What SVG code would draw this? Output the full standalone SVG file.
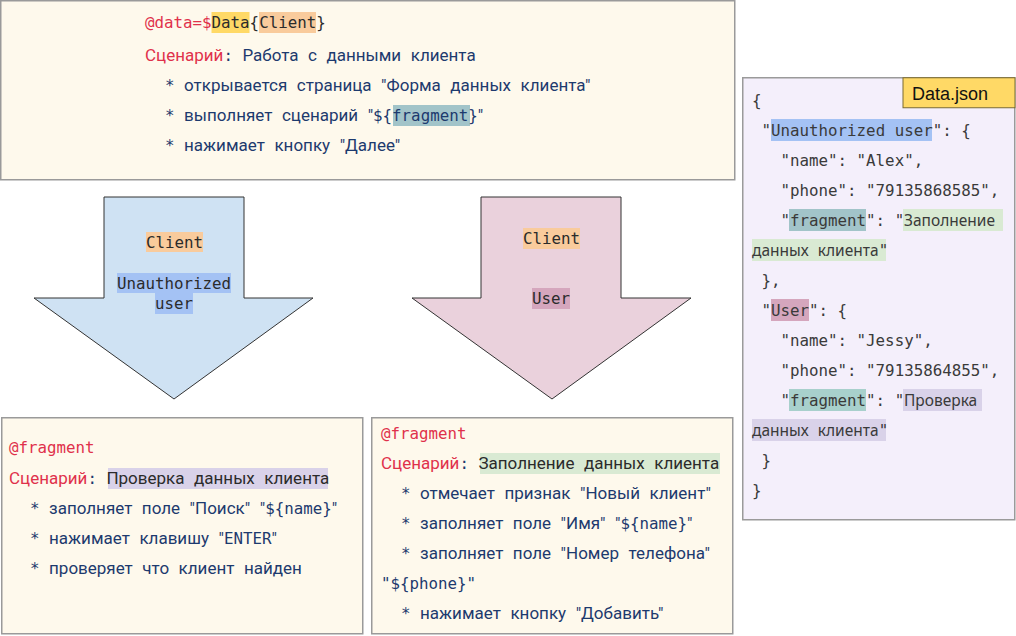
<svg xmlns="http://www.w3.org/2000/svg" width="1016" height="636" viewBox="0 0 1016 636">
<style>
.m{font-family:"DejaVu Sans Mono","Liberation Mono",monospace;font-size:15.8px;word-spacing:0}
.r{font-family:Roboto,"Noto Sans",sans-serif;font-size:17px;word-spacing:5.3px}
.j{font-family:"Noto Sans",Roboto,sans-serif;font-size:15.5px;word-spacing:5px}
.pre{white-space:pre}
.nav{fill:#1d3a6e}
.red{fill:#e0314b}
.dk{fill:#2b2b2b}
.gr{fill:#3a3a3a}
.box{fill:#fef9ec;stroke:#9a9a9a;stroke-width:1.5}
.arrow{stroke:#333;stroke-width:1}
</style>
<rect width="1016" height="636" fill="#ffffff"/>

<g id="scenario-main">
<rect class="box" x="0.75" y="0.75" width="734" height="179"/>
<rect x="211.5" y="12" width="38" height="21" fill="#ffd966"/>
<rect x="259" y="12" width="57" height="21" fill="#f9cb9c"/>
<rect x="393" y="105" width="77" height="21" fill="#a2c4c9"/>
<text class="m red" x="145" y="28">@data=$<tspan class="dk">Data{Client}</tspan></text>
<text class="r red pre" x="145" y="61">Сценарий<tspan class="m nav">: </tspan><tspan class="nav">Работа с данными клиента</tspan></text>
<text class="r nav pre" x="165" y="91"><tspan class="m">* </tspan>открывается страница "Форма данных клиента"</text>
<text class="r nav pre" x="165" y="121"><tspan class="m">* </tspan>выполняет сценарий "<tspan class="m">${fragment}</tspan>"</text>
<text class="r nav pre" x="165" y="151"><tspan class="m">* </tspan>нажимает кнопку "Далее"</text>
</g>

<g id="data-json">
<rect x="742.75" y="77.75" width="272" height="442" fill="#f4effb" stroke="#9a9a9a" stroke-width="1.5"/>
<rect x="903" y="77.75" width="112" height="30" fill="#ffd966" stroke="#7a6a30" stroke-width="1"/>
<text x="912" y="100" font-family="Liberation Sans,Arial,sans-serif" font-size="18" fill="#111">Data.json</text>
<rect x="771" y="119" width="161" height="22" fill="#a4c2f4"/>
<rect x="789" y="209" width="77" height="22" fill="#a2c4c9"/>
<rect x="903" y="209" width="100" height="22" fill="#d9ead3"/>
<rect x="752" y="239" width="134" height="22" fill="#d9ead3"/>
<rect x="771" y="299" width="38" height="22" fill="#d5a6bd"/>
<rect x="789" y="389" width="77" height="22" fill="#a8d0cc"/>
<rect x="903" y="389" width="79" height="22" fill="#d9d2e9"/>
<rect x="752" y="419" width="134" height="22" fill="#d9d2e9"/>
<g class="m gr">
<text x="752" y="106">{</text>
<text x="761.5" y="136">"Unauthorized user": {</text>
<text x="780.5" y="166">"name": "Alex",</text>
<text x="780.5" y="196">"phone": "79135868585",</text>
<text x="780.5" y="226">"fragment": "<tspan class="j" x="904">Заполнение</tspan></text>
<text x="752" y="256"><tspan class="j">данных клиента</tspan>"</text>
<text x="761.5" y="286">},</text>
<text x="761.5" y="316">"User": {</text>
<text x="780.5" y="346">"name": "Jessy",</text>
<text x="780.5" y="376">"phone": "79135864855",</text>
<text x="780.5" y="406">"fragment": "<tspan class="j" x="904">Проверка</tspan></text>
<text x="752" y="436"><tspan class="j">данных клиента</tspan>"</text>
<text x="761.5" y="466">}</text>
<text x="752" y="496">}</text>
</g>
</g>

<g id="arrow-unauthorized">
<polygon class="arrow" points="104,197 244,197 244,298 313,298 174,399 34,298 104,298" fill="#cfe2f3"/>
<rect x="146" y="232" width="57" height="20" fill="#f9cb9c"/>
<rect x="117" y="273" width="114" height="20" fill="#a4c2f4"/>
<rect x="155" y="293" width="38" height="21" fill="#a4c2f4"/>
<text class="m dk" x="174.5" y="247.5" text-anchor="middle">Client</text>
<text class="m dk" x="174" y="288.5" text-anchor="middle">Unauthorized</text>
<text class="m dk" x="174" y="309" text-anchor="middle">user</text>
</g>

<g id="arrow-user">
<polygon class="arrow" points="481,197 621,197 621,298 691,298 552,399 412,298 481,298" fill="#ead1dc"/>
<rect x="523" y="228" width="57" height="21" fill="#f9cb9c"/>
<rect x="532" y="288" width="38" height="21" fill="#d5a6bd"/>
<text class="m dk" x="551.5" y="244" text-anchor="middle">Client</text>
<text class="m dk" x="551" y="304" text-anchor="middle">User</text>
</g>

<g id="fragment-check">
<rect class="box" x="1.75" y="417.75" width="361" height="216"/>
<rect x="108" y="468" width="220" height="21" fill="#d9d2e9"/>
<text class="m red" x="9" y="453">@fragment</text>
<text class="r red pre" x="9" y="484">Сценарий<tspan class="m nav">: </tspan><tspan class="dk">Проверка данных клиента</tspan></text>
<text class="r nav pre" x="30" y="514"><tspan class="m">* </tspan>заполняет поле "Поиск" "<tspan class="m">${name}</tspan>"</text>
<text class="r nav pre" x="30" y="544"><tspan class="m">* </tspan>нажимает клавишу "<tspan class="m">ENTER</tspan>"</text>
<text class="r nav pre" x="30" y="574"><tspan class="m">* </tspan>проверяет что клиент найден</text>
</g>

<g id="fragment-fill">
<rect class="box" x="371.75" y="417.75" width="361" height="216"/>
<rect x="480" y="453" width="240" height="21" fill="#d9ead3"/>
<text class="m red" x="381" y="439">@fragment</text>
<text class="r red pre" x="381" y="469">Сценарий<tspan class="m nav">: </tspan><tspan class="dk">Заполнение данных клиента</tspan></text>
<text class="r nav pre" x="401" y="499"><tspan class="m">* </tspan>отмечает признак "Новый клиент"</text>
<text class="r nav pre" x="401" y="529"><tspan class="m">* </tspan>заполняет поле "Имя" "<tspan class="m">${name}</tspan>"</text>
<text class="r nav pre" x="401" y="559"><tspan class="m">* </tspan>заполняет поле "Номер телефона"</text>
<text class="m nav" x="381" y="589">"${phone}"</text>
<text class="r nav pre" x="401" y="619"><tspan class="m">* </tspan>нажимает кнопку "Добавить"</text>
</g>

<g id="connectors"></g>
</svg>
